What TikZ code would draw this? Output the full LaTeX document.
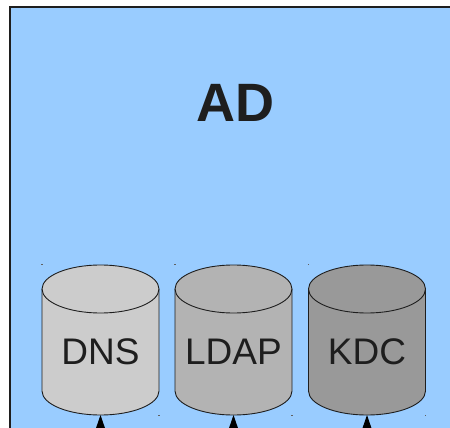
\documentclass[tikz,border=0pt]{standalone}
\usepackage{fontspec}
\setmainfont{Liberation Sans}
\usetikzlibrary{arrows.meta}
\pgfdeclarelayer{background}
\pgfsetlayers{background,main}
\definecolor{adblue}{HTML}{99CCFF}
\definecolor{inkc}{HTML}{1E1E1E}
\definecolor{cylA}{HTML}{CCCCCC}
\definecolor{cylB}{HTML}{B3B3B3}
\definecolor{cylC}{HTML}{999999}
\tikzset{
  x=1pt,y=1pt,
  dbbox/.style={minimum width=117pt,minimum height=150pt,inner sep=0pt,outer sep=0pt,
    text=inkc,font=\fontsize{37}{40}\selectfont, text height=48.5pt, text depth=0pt},
  cylline/.style={draw=inkc,line width=0.9pt},
  uparrow/.style={draw=black,line width=1pt,-{Triangle[length=15pt,width=10pt]}},
  handle/.style={fill=inkc!70,draw=none}
}
\newcommand{\mycyl}[2]{% node name, fill colour
  \begin{pgfonlayer}{background}
  \path[cylline,fill=#2]
    ([yshift=-24pt]#1.north west) -- ([yshift=24pt]#1.south west)
    arc[start angle=180,end angle=360,x radius=58.5pt,y radius=24pt]
    -- ([yshift=-24pt]#1.north east)
    arc[start angle=0,end angle=180,x radius=58.5pt,y radius=24pt] -- cycle;
  \draw[cylline] ([yshift=-24pt]#1.north west)
    arc[start angle=180,end angle=360,x radius=58.5pt,y radius=24pt];
  \fill[handle] ([xshift=-0.6pt,yshift=-0.4pt]#1.north west) rectangle ++(1.2pt,1.2pt);
  \fill[handle] ([xshift=-0.6pt,yshift=-0.8pt]#1.south east) rectangle ++(1.2pt,1.2pt);
  \end{pgfonlayer}}
\begin{document}
\begin{tikzpicture}
\useasboundingbox (0,0) rectangle (450,-428);
\clip (0,0) rectangle (450,-428);
\begin{pgfonlayer}{background}
\draw[fill=adblue,draw=inkc,line width=1.6pt] (10,-7) rectangle (470,-450);
\end{pgfonlayer}
\node[text=inkc,font=\bfseries\fontsize{54}{60}\selectfont,inner sep=0pt,
  text height=38.7pt,text depth=0pt] (title) at (235.5,-102.5) {AD};
\node[dbbox] (dns) at (100.5,-340) {DNS};
\node[dbbox] (ldap) at (233.5,-340) {LDAP};
\node[dbbox] (kdc) at (367,-340) {KDC};
\mycyl{dns}{cylA}
\mycyl{ldap}{cylB}
\mycyl{kdc}{cylC}
\coordinate (dnsin) at (100.5,-460);
\coordinate (ldapin) at (233.5,-460);
\coordinate (kdcin) at (367,-460);
\draw[uparrow] (dnsin) -- (dns.south);
\draw[uparrow] (ldapin) -- (ldap.south);
\draw[uparrow] (kdcin) -- (kdc.south);
\end{tikzpicture}
\end{document}
